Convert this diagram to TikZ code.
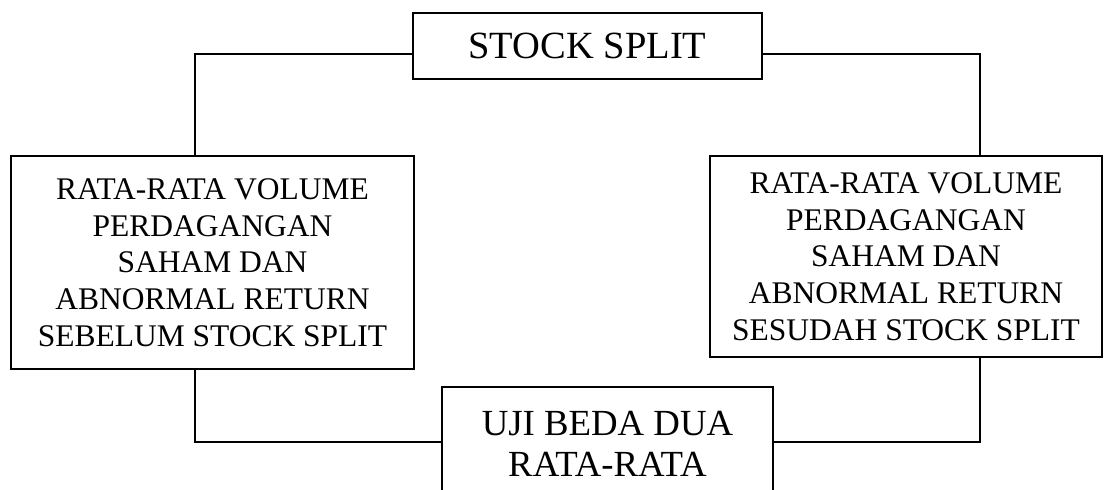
\documentclass[tikz,border=0pt]{standalone}
\usepackage{fontspec}
\setmainfont{Liberation Serif}
\begin{document}
\begin{tikzpicture}[x=1pt,y=-1pt,
  box/.style={draw, line width=1.9pt, rectangle, inner sep=0pt, align=center},
  link/.style={line width=2pt}]
\useasboundingbox (0,0) rectangle (1104,490);

% boxes
\node[box, minimum width=349pt, minimum height=66pt,
      font=\fontsize{38.5}{44}\selectfont] (split) at (587.5,46) {STOCK SPLIT};
\node[box, minimum width=403pt, minimum height=213pt,
      font=\fontsize{31.5}{36.7}\selectfont] (before) at (212.5,262.5)
  {RATA-RATA VOLUME\\PERDAGANGAN\\SAHAM DAN\\ABNORMAL RETURN\\SEBELUM STOCK SPLIT};
\node[box, minimum width=392pt, minimum height=201pt,
      font=\fontsize{31.5}{36.7}\selectfont] (after) at (906,256.5)
  {RATA-RATA VOLUME\\PERDAGANGAN\\SAHAM DAN\\ABNORMAL RETURN\\SESUDAH STOCK SPLIT};
\node[box, minimum width=331pt, minimum height=113pt,
      font=\fontsize{36.8}{41.3}\selectfont] (test) at (607.5,443.5)
  {UJI BEDA DUA\\RATA-RATA};

% junction points of the connectors
\coordinate (lj) at (195,53.5);
\coordinate (rj) at (980,53.5);
\coordinate (bl) at (195,441.5);
\coordinate (br) at (980,441.5);

% connectors
\draw[link] (split.west |- lj) -| (before.north -| lj);
\draw[link] (split.east |- rj) -| (after.north -| rj);
\draw[link] (before.south -| bl) |- (test.west |- bl);
\draw[link] (after.south -| br) |- (test.east |- br);
\end{tikzpicture}
\end{document}
